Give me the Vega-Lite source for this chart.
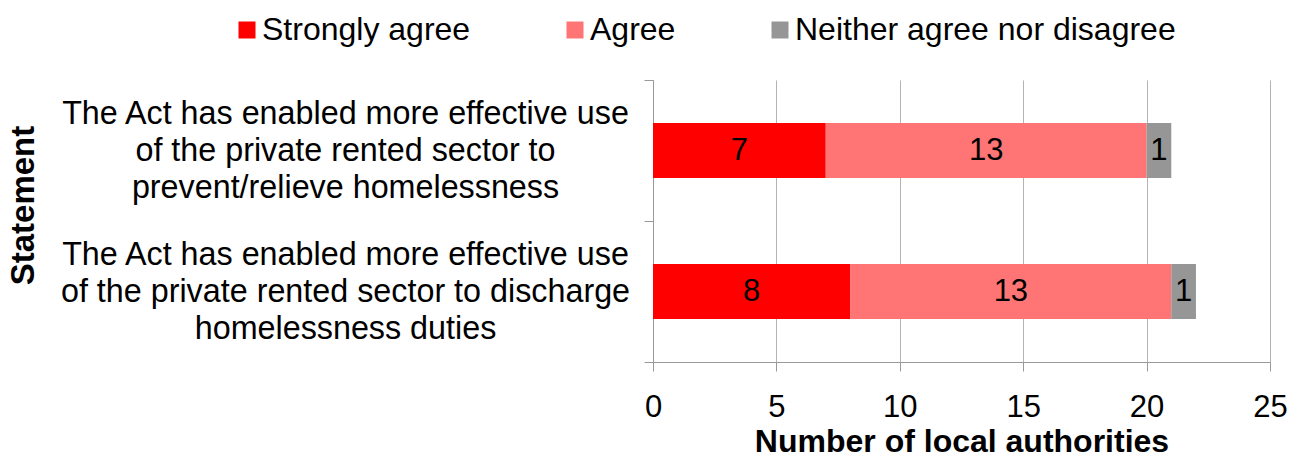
{
  "$schema": "https://vega.github.io/schema/vega-lite/v6.json",
  "width": 617,
  "height": 282,
  "autosize": {"type": "none"},
  "padding": {"left": 653, "top": 80, "right": 20, "bottom": 95},
  "background": "white",
  "config": {"font": "Liberation Sans", "view": {"stroke": null}},
  "data": {
    "values": [
      {"statement": "The Act has enabled more effective use|of the private rented sector to|prevent/relieve homelessness", "response": "Strongly agree", "ord": 1, "count": 7},
      {"statement": "The Act has enabled more effective use|of the private rented sector to|prevent/relieve homelessness", "response": "Agree", "ord": 2, "count": 13},
      {"statement": "The Act has enabled more effective use|of the private rented sector to|prevent/relieve homelessness", "response": "Neither agree nor disagree", "ord": 3, "count": 1},
      {"statement": "The Act has enabled more effective use|of the private rented sector to discharge|homelessness duties", "response": "Strongly agree", "ord": 1, "count": 8},
      {"statement": "The Act has enabled more effective use|of the private rented sector to discharge|homelessness duties", "response": "Agree", "ord": 2, "count": 13},
      {"statement": "The Act has enabled more effective use|of the private rented sector to discharge|homelessness duties", "response": "Neither agree nor disagree", "ord": 3, "count": 1}
    ]
  },
  "transform": [
    {"stack": "count", "groupby": ["statement"], "sort": [{"field": "ord", "order": "ascending"}], "as": ["v0", "v1"]},
    {"calculate": "(datum.v0 + datum.v1) / 2", "as": "mid"}
  ],
  "encoding": {
    "y": {
      "field": "statement",
      "type": "nominal",
      "sort": null,
      "scale": {"paddingInner": 0, "paddingOuter": 0},
      "axis": {
        "title": "Statement",
        "titleFontSize": 33,
        "titleFontWeight": "bold",
        "titleColor": "black",
        "titleX": -630,
        "titleY": 125,
        "titleAngle": -90,
        "titleAlign": "center",
        "titleBaseline": "middle",
        "labelExpr": "split(datum.label, '|')",
        "labelFontSize": 32.3,
        "labelColor": "black",
        "labelAlign": "center",
        "labelBaseline": "middle",
        "labelLineHeight": 37,
        "labelOffset": -37,
        "labelPadding": 299,
        "labelLimit": 800,
        "tickBand": "extent",
        "tickSize": 9,
        "tickColor": "#999999",
        "domainColor": "#999999",
        "grid": false
      }
    }
  },
  "layer": [
    {
      "mark": {"type": "bar", "height": {"band": 0.39}},
      "encoding": {
        "x": {
          "field": "v0",
          "type": "quantitative",
          "scale": {"domain": [0, 25], "nice": false},
          "axis": {
            "title": "Number of local authorities",
            "titleFontSize": 32,
            "titleFontWeight": "bold",
            "titleColor": "black",
            "titlePadding": 4,
            "labelFontSize": 31,
            "labelColor": "black",
            "labelPadding": 21,
            "labelFlush": false,
            "labelOverlap": false,
            "values": [0, 5, 10, 15, 20, 25],
            "tickSize": 9,
            "tickColor": "#999999",
            "domainColor": "#999999",
            "grid": true,
            "gridColor": "#B3B3B3"
          }
        },
        "x2": {"field": "v1"},
        "color": {
          "field": "response",
          "type": "nominal",
          "scale": {
            "domain": ["Strongly agree", "Agree", "Neither agree nor disagree"],
            "range": ["#FF0000", "#FF7575", "#969696"]
          },
          "legend": {
            "orient": "none",
            "legendX": -422,
            "legendY": -66,
            "direction": "horizontal",
            "title": null,
            "labelFontSize": 32,
            "labelColor": "black",
            "labelLimit": 600,
            "symbolType": "square",
            "symbolSize": 289,
            "symbolStrokeWidth": 0,
            "symbolOpacity": 1,
            "columnPadding": 88,
            "labelOffset": -1,
            "padding": 0
          }
        }
      }
    },
    {
      "mark": {"type": "text", "fontSize": 31, "color": "black", "baseline": "middle", "align": "center"},
      "encoding": {
        "x": {"field": "mid", "type": "quantitative"},
        "text": {"field": "count", "type": "quantitative"}
      }
    }
  ]
}
